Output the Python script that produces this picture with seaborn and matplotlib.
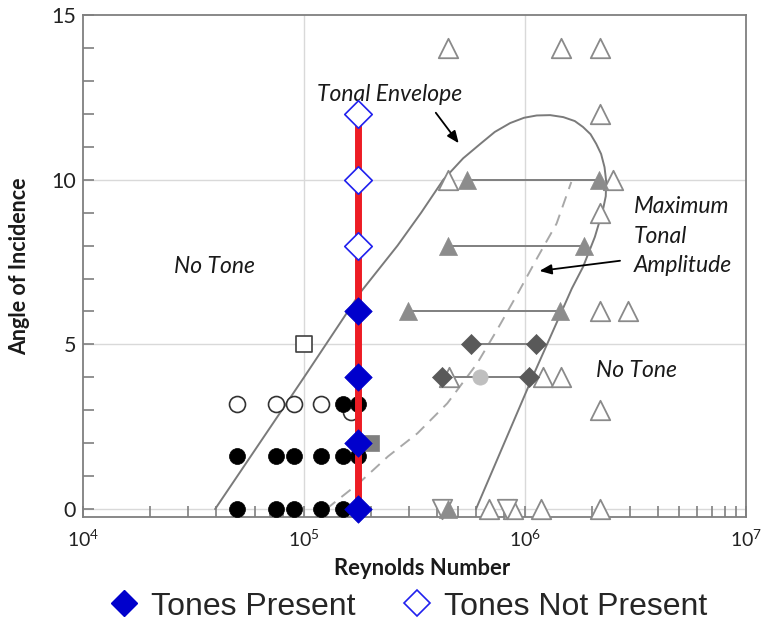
import matplotlib
matplotlib.use("Agg")
import matplotlib.pyplot as plt
import seaborn as sns
import pandas as pd
from matplotlib.ticker import FixedLocator, LogLocator, NullFormatter, FixedFormatter
from matplotlib.lines import Line2D

# ---------------- data ----------------
re_test = [1.75e5, 1.75e5]
re_test_aoa = [0, 12]
tones_present_re = [1.75e5, 1.75e5, 1.75e5, 1.75e5]
tones_present_aoa = [0, 2, 4, 6]
tones_absent_re = [1.75e5, 1.75e5, 1.75e5]
tones_absent_aoa = [8, 10, 12]

filled_circle_re = [5.0e4, 7.5e4, 9.0e4, 1.2e5, 1.5e5, 1.75e5,
                    5.0e4, 7.5e4, 9.0e4, 1.2e5, 1.5e5, 1.75e5,
                    1.5e5, 1.75e5]
filled_circle_aoa = [0, 0, 0, 0, 0, 0,
                     1.6, 1.6, 1.6, 1.6, 1.6, 1.6,
                     3.2, 3.2]
open_circle_re = [5.0e4, 7.5e4, 9.0e4, 1.2e5, 1.63e5]
open_circle_aoa = [3.2, 3.2, 3.2, 3.2, 2.95]

open_square_re = [1.0e5]
open_square_aoa = [5.0]
gray_square_re = [2.0e5]
gray_square_aoa = [2.0]

filled_tri_re = [5.45e5, 2.16e6, 4.46e5, 1.85e6, 2.97e5, 1.44e6, 4.46e5]
filled_tri_aoa = [10, 10, 8, 8, 6, 6, 0]
dark_diamond_re = [5.7e5, 1.12e6, 4.22e5, 1.04e6]
dark_diamond_aoa = [5, 5, 4, 4]
light_circle_re = [6.24e5]
light_circle_aoa = [4]

open_tri_re = [4.5e5, 1.45e6, 2.18e6, 2.18e6, 4.46e5, 2.51e6, 2.18e6,
               2.18e6, 2.92e6, 4.52e5, 1.21e6, 1.45e6, 2.18e6,
               6.9e5, 8.87e5, 1.18e6, 2.18e6]
open_tri_aoa = [14, 14, 14, 12, 10, 10, 9,
                6, 6, 4, 4, 4, 3,
                0, 0, 0, 0]
inv_tri_re = [4.22e5, 8.28e5]
inv_tri_aoa = [0, 0]

# horizontal connectors (start Re, end Re, AoA)
conn_start = [5.45e5, 4.46e5, 2.97e5, 5.7e5, 4.22e5]
conn_end = [2.16e6, 1.85e6, 1.44e6, 1.12e6, 1.04e6]
conn_aoa = [10, 8, 6, 5, 4]

envelope_re = [3.96e4, 1.0e5, 1.81e5, 2.65e5, 3.39e5, 4.27e5, 5.25e5, 6.31e5,
               7.3e5, 8.57e5, 9.9e5, 1.13e6, 1.3e6, 1.49e6, 1.68e6, 1.83e6,
               1.98e6, 2.10e6, 2.21e6, 2.29e6, 2.33e6, 2.32e6, 2.25e6,
               2.07e6, 1.83e6, 1.63e6, 1.08e6, 6.0e5]
envelope_aoa = [0, 4.0, 6.6, 8.0, 9.0, 10.0, 10.65, 11.1,
                11.45, 11.72, 11.88, 11.95, 11.96, 11.9, 11.78, 11.6,
                11.38, 11.09, 10.78, 10.38, 9.95, 9.5, 9.07,
                8.26, 7.35, 6.7, 4.0, 0]

max_amp_re = [1.26e5, 1.78e5, 2.40e5, 3.26e5, 4.45e5, 6.07e5, 7.46e5,
              9.46e5, 1.13e6, 1.39e6, 1.62e6]
max_amp_aoa = [0, 0.8, 1.6, 2.3, 3.21, 4.42, 5.43, 6.65, 7.6, 8.67, 9.93]

xtick_vals = [1e4, 1e5, 1e6, 1e7]
xtick_labels = [r"$\mathregular{10^{4}}$", r"$\mathregular{10^{5}}$",
                r"$\mathregular{10^{6}}$", r"$\mathregular{10^{7}}$"]
ytick_vals = [0, 5, 10, 15]

# ---------------- style ----------------
sns.set_theme(style="white")
plt.rcParams["font.family"] = ["Lato", "DejaVu Sans"]

fig = plt.figure(figsize=(7.62, 6.26), dpi=100)
ax = fig.add_axes([83 / 762, 1 - 517 / 626, (746 - 83) / 762, (517 - 15) / 626])
ax.set_xscale("log")
ax.set_xlim(1e4, 1e7)
ax.set_ylim(-0.24, 15)

grid_c = "#d9d9d9"
for v in [1e5, 1e6]:
    ax.axvline(v, color=grid_c, lw=1.0, zorder=0)
for v in [0, 5, 10]:
    ax.axhline(v, color=grid_c, lw=1.0, zorder=0)

# curves
env = pd.DataFrame({"Re": envelope_re, "AoA": envelope_aoa})
sns.lineplot(data=env, x="Re", y="AoA", sort=False, estimator=None,
             color="#7a7a7a", lw=1.4, ax=ax, zorder=2)
mx = pd.DataFrame({"Re": max_amp_re, "AoA": max_amp_aoa})
sns.lineplot(data=mx, x="Re", y="AoA", sort=False, estimator=None,
             color="#a8a8a8", lw=1.4, dashes=False, ax=ax, zorder=2,
             linestyle=(0, (6, 4)))

for s, e, a in zip(conn_start, conn_end, conn_aoa):
    ax.plot([s, e], [a, a], color="#7f7f7f", lw=1.4, zorder=3)

def sc(x, y, marker, size, face, edge, lw, z):
    sns.scatterplot(x=x, y=y, marker=marker, s=size ** 2, color=face,
                    edgecolor=edge, linewidth=lw, ax=ax, zorder=z,
                    clip_on=False, legend=False)

sc(open_tri_re, open_tri_aoa, "^", 14, "white", "#8a8a8a", 1.3, 4)
sc(inv_tri_re, inv_tri_aoa, "v", 14, "white", "#8a8a8a", 1.3, 4)
sc(filled_tri_re, filled_tri_aoa, "^", 13, "#8c8c8c", "#8c8c8c", 0.5, 5)
sc(dark_diamond_re, dark_diamond_aoa, "D", 10.2, "#595959", "#595959", 0.5, 6)
sc(light_circle_re, light_circle_aoa, "o", 11, "#bfbfbf", "#bfbfbf", 0.5, 6)
sc(open_square_re, open_square_aoa, "s", 11.5, "white", "#404040", 1.2, 5)
sc(gray_square_re, gray_square_aoa, "s", 12, "#7f7f7f", "#7f7f7f", 0.5, 5)
sc(open_circle_re, open_circle_aoa, "o", 11.5, "white", "#333333", 1.2, 5)
sc(filled_circle_re, filled_circle_aoa, "o", 11.5, "black", "black", 0.5, 6)

ax.plot(re_test, re_test_aoa, color="#ed1c24", lw=5, zorder=7, solid_capstyle="butt")
sc(tones_present_re, tones_present_aoa, "D", 14, "#0000cc", "#0000cc", 0.5, 8)
sc(tones_absent_re, tones_absent_aoa, "D", 14, "white", "#2020ee", 1.2, 8)

# annotations
ann_font = dict(fontsize=16.5, style="italic", color="#1a1a1a")
ax.text(2.45e5, 12.6, "Tonal Envelope", ha="center", va="center", **ann_font)
ax.annotate("", xy=(5.1e5, 11.04), xytext=(3.88e5, 12.1),
            arrowprops=dict(arrowstyle="-|>,head_length=0.6,head_width=0.25",
                            color="black", lw=1.3))
ax.text(3.12e6, 8.28, "Maximum\nTonal\nAmplitude", ha="left", va="center",
        linespacing=1.5, **ann_font)
ax.annotate("", xy=(1.13e6, 7.22), xytext=(2.77e6, 7.55),
            arrowprops=dict(arrowstyle="-|>,head_length=0.6,head_width=0.25",
                            color="black", lw=1.3))
ax.text(3.94e4, 7.37, "No Tone", ha="center", va="center", **ann_font)
ax.text(3.21e6, 4.22, "No Tone", ha="center", va="center", **ann_font)

# axes / ticks
for sp in ax.spines.values():
    sp.set_color("#7f7f7f")
    sp.set_linewidth(1.3)
ax.xaxis.set_major_locator(FixedLocator(xtick_vals))
ax.xaxis.set_major_formatter(FixedFormatter(xtick_labels))
ax.xaxis.set_minor_locator(LogLocator(base=10, subs=[2, 3, 4, 5, 6, 7, 8, 9]))
ax.xaxis.set_minor_formatter(NullFormatter())
ax.yaxis.set_major_locator(FixedLocator(ytick_vals))
ax.yaxis.set_minor_locator(FixedLocator(list(range(0, 16))))
ax.tick_params(which="both", direction="in", color="#7f7f7f", width=1.2,
               length=8, bottom=True, left=True, top=False, right=False)
ax.tick_params(axis="y", which="major", labelsize=15.5, pad=5, labelcolor="#222222")
ax.tick_params(axis="x", which="major", labelsize=14, pad=8, labelcolor="#222222")

ax.set_xlabel("Reynolds Number", fontsize=15.8, fontweight="bold", color="#1a1a1a")
ax.set_ylabel("Angle of Incidence", fontsize=15.5, fontweight="bold", color="#1a1a1a")
ax.xaxis.set_label_coords(0.512, -0.082)
ax.yaxis.set_label_coords(-0.08, 0.5)

# legend
handles = [
    Line2D([], [], marker="D", ls="none", markersize=13.5, markerfacecolor="#0000cc",
           markeredgecolor="#0000cc"),
    Line2D([], [], marker="D", ls="none", markersize=13.5, markerfacecolor="white",
           markeredgecolor="#2020ee", markeredgewidth=1.2),
]
fig.legend(handles, ["Tones Present", "Tones Not Present"], loc="center",
           bbox_to_anchor=(0.535, 0.031), ncol=2, frameon=False,
           prop={"family": "Liberation Sans", "size": 23},
           handlelength=1.0, handletextpad=0.35, columnspacing=1.4,
           borderpad=0.1)

fig.savefig("out.png", dpi=100)
